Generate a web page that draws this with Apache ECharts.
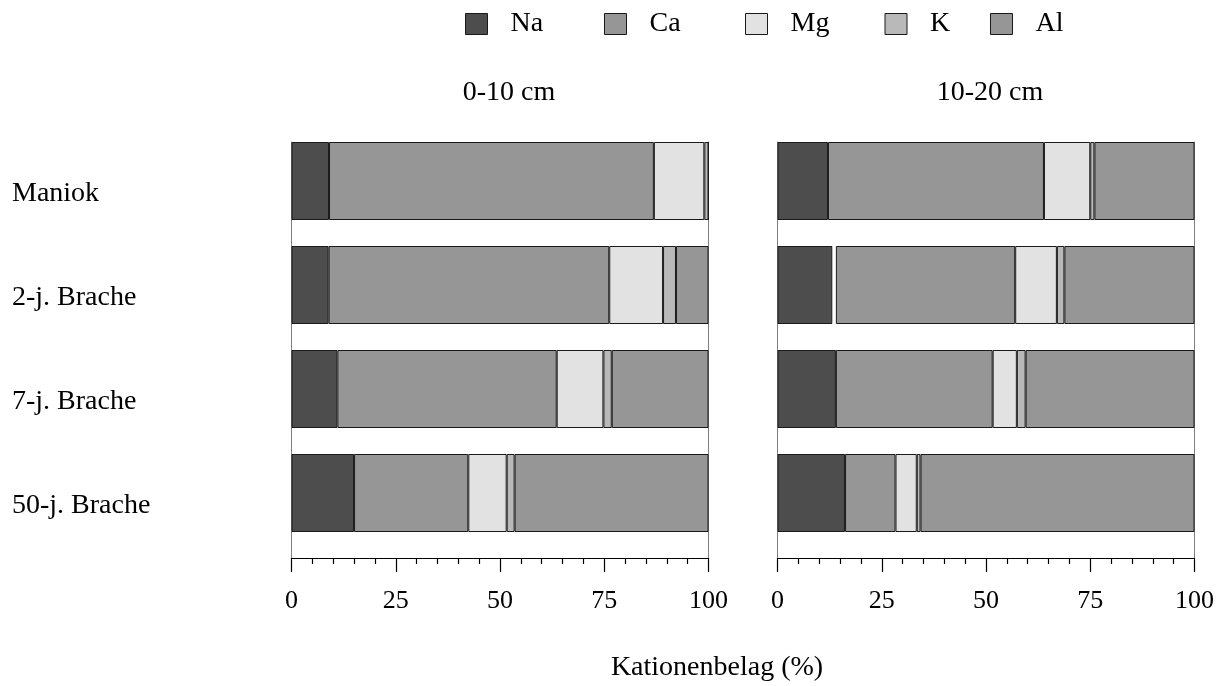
<!DOCTYPE html>
<html>
<head>
<meta charset="utf-8">
<script src="https://cdn.jsdelivr.net/npm/echarts@6/dist/echarts.min.js"></script>
<style>
  html, body { margin: 0; padding: 0; background: #fff; }
  #chart { width: 1223px; height: 686px; }
</style>
</head>
<body>
<div id="chart"></div>
<script>
// Landnutzungsstufen (Zeilen) und Kationen (Stapelreihenfolge)
const categories = ['Maniok', '2-j. Brache', '7-j. Brache', '50-j. Brache'];
const ions = ['Na', 'Ca', 'Mg', 'K', 'Al'];
const depths = ['0-10 cm', '10-20 cm'];
const xTicks = [0, 25, 50, 75, 100];

// Kationenbelag (%) in 0-10 cm
const na0 = [9.0, 8.9, 11.0, 15.0];
const ca0 = [77.9, 67.3, 52.6, 27.4];
const mg0 = [12.1, 12.9, 11.2, 9.2];
const k0  = [1.0, 3.1, 2.0, 1.9];
const al0 = [0.0, 7.8, 23.2, 46.5];

// Kationenbelag (%) in 10-20 cm
const na1  = [12.1, 13.2, 14.0, 16.2];
const gap1 = [0.0, 0.8, 0.0, 0.0];
const ca1  = [51.8, 43.0, 37.6, 12.1];
const mg1  = [11.1, 10.0, 5.8, 5.1];
const k1   = [1.0, 1.8, 2.1, 0.9];
const al1  = [24.0, 31.2, 40.5, 65.7];

const colors = { Na: '#4d4d4d', Ca: '#969696', Mg: '#e2e2e2', K: '#b9b9b9', Al: '#969696' };
const serif = '"Liberation Serif", "DejaVu Serif", serif';

const grids = [
  { left: 291.5, top: 142, width: 417, height: 416 },
  { left: 777.5, top: 142, width: 417, height: 416 }
];

const panelData = [
  [['Na', na0], ['Ca', ca0], ['Mg', mg0], ['K', k0], ['Al', al0]],
  [['Na', na1], ['', gap1], ['Ca', ca1], ['Mg', mg1], ['K', k1], ['Al', al1]]
];

const xAxes = grids.map((g, i) => ({
  type: 'value', gridIndex: i, min: 0, max: 100, interval: 25,
  axisLine: { show: true, lineStyle: { color: '#000', width: 1 } },
  axisTick: { show: true, inside: false, length: 14, lineStyle: { color: '#000', width: 1.2 } },
  minorTick: { show: true, splitNumber: 5, length: 6, lineStyle: { color: '#000', width: 1.2 } },
  splitLine: { show: false },
  axisLabel: {
    margin: 30, fontFamily: serif, fontSize: 26, color: '#000',
    formatter: v => xTicks.includes(v) ? String(v) : ''
  }
}));

const yAxes = [];
grids.forEach((g, i) => {
  // left edge with row labels
  yAxes.push({
    type: 'category', gridIndex: i, data: categories, inverse: true,
    axisLine: { show: true, lineStyle: { color: '#7f7f7f', width: 1 } },
    axisTick: { show: false },
    axisLabel: {
      show: i === 0, align: 'left', margin: 279.5,
      fontFamily: serif, fontSize: 28, color: '#000'
    }
  });
  // right edge of the panel frame
  yAxes.push({
    type: 'category', gridIndex: i, data: categories, inverse: true, position: 'right',
    axisLine: { show: true, lineStyle: { color: '#7f7f7f', width: 1 } },
    axisTick: { show: false }, axisLabel: { show: false }
  });
});

const series = [];
panelData.forEach((rows, i) => {
  rows.forEach(([name, values]) => {
    const isGap = name === '';
    series.push({
      type: 'bar', name: isGap ? 'Lücke' : name,
      xAxisIndex: i, yAxisIndex: i * 2,
      stack: 'belag' + i, barWidth: 78, barGap: '0%',
      data: values, silent: true,
      itemStyle: isGap
        ? { color: '#ffffff', borderWidth: 0 }
        : { color: colors[name], borderColor: '#1a1a1a', borderWidth: 1 }
    });
  });
  // empty companion column: leaves the lower quarter of each row free
  series.push({
    type: 'bar', name: 'Abstand',
    xAxisIndex: i, yAxisIndex: i * 2,
    stack: 'abstand' + i, barWidth: 26, barGap: '0%',
    data: categories.map(() => 0), silent: true,
    itemStyle: { color: 'transparent', borderWidth: 0 }
  });
});

// one legend block per cation, placed along the top row
const legendLeft = [465, 604, 745, 884.5, 990];
const legends = ions.map((n, i) => ({
  data: [n],
  left: legendLeft[i], top: 10, padding: 0,
  itemWidth: 22, itemHeight: 21,
  icon: 'rect',
  selectedMode: false,
  itemStyle: { borderColor: '#1a1a1a', borderWidth: 1 },
  textStyle: { fontFamily: serif, fontSize: 28, color: '#000', padding: [0, 0, 0, 18] }
}));

const option = {
  animation: false,
  backgroundColor: '#fff',
  grid: grids,
  xAxis: xAxes,
  yAxis: yAxes,
  legend: legends,
  graphic: [
    { type: 'text', x: 509, y: 93, style: { text: depths[0], font: '28px ' + serif, fill: '#000', align: 'center', verticalAlign: 'middle' } },
    { type: 'text', x: 990, y: 93, style: { text: depths[1], font: '28px ' + serif, fill: '#000', align: 'center', verticalAlign: 'middle' } },
    { type: 'text', x: 717, y: 668, style: { text: 'Kationenbelag (%)', font: '28px ' + serif, fill: '#000', align: 'center', verticalAlign: 'middle' } }
  ],
  series: series
};

const chart = echarts.init(document.getElementById('chart'), null, { renderer: 'canvas' });
chart.setOption(option);
</script>
</body>
</html>
